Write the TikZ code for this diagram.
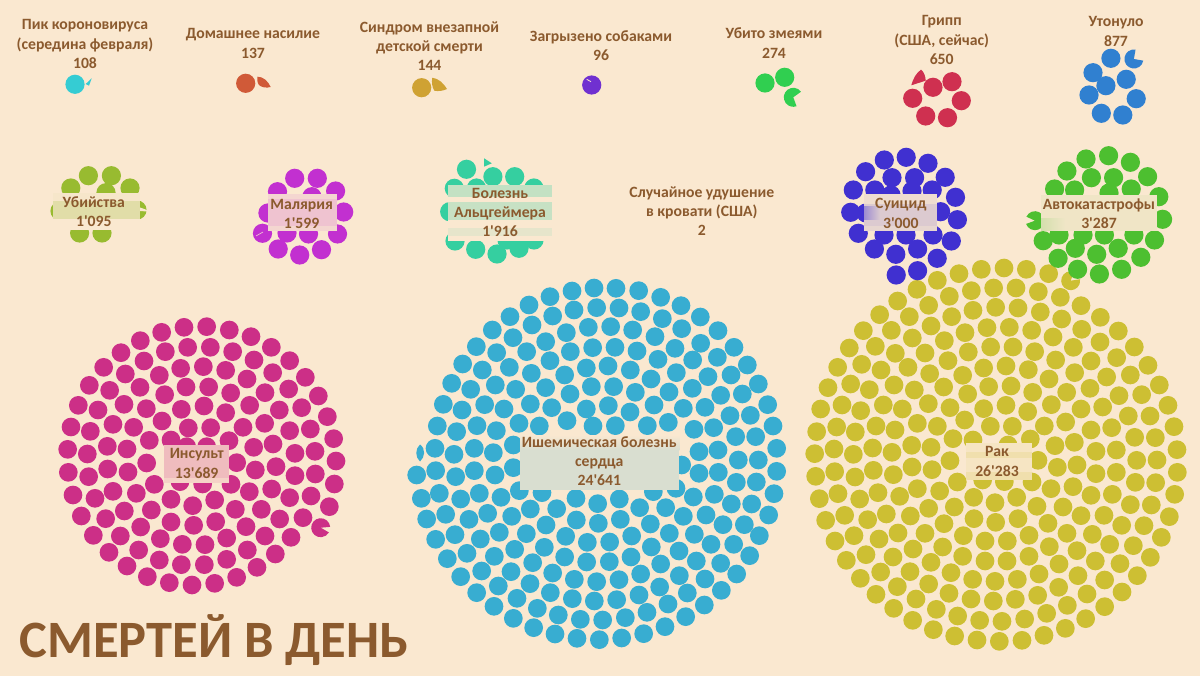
\documentclass[tikz,border=0pt]{standalone}
\usepackage{fontspec}
\newfontfamily\lab{Carlito}
\definecolor{bgc}{HTML}{FAE8D0}
\definecolor{tx}{HTML}{8B5A2E}
\definecolor{cStroke}{HTML}{CC2F87}
\definecolor{cHeart}{HTML}{38ADD1}
\definecolor{cCancer}{HTML}{CDBF33}
\definecolor{cPik}{HTML}{35CCD3}
\definecolor{cDom}{HTML}{D05A38}
\definecolor{cSyn}{HTML}{CFA233}
\definecolor{cDog}{HTML}{7030D0}
\definecolor{cSnake}{HTML}{30CF50}
\definecolor{cFlu}{HTML}{CF3050}
\definecolor{cDrown}{HTML}{3080D0}
\definecolor{cMurder}{HTML}{98BB30}
\definecolor{cMal}{HTML}{C230D0}
\definecolor{cAlz}{HTML}{35CFA0}
\definecolor{cSui}{HTML}{4030D0}
\definecolor{cCar}{HTML}{4DBF30}
\newcommand\zdots[4]{\foreach \a/\b in {#4} \fill[#1] ({#2+\a/3},{#3+\b/3}) circle[radius=9.35pt];}
\newcommand\pxdots[2]{\foreach \a/\b in {#2} \fill[#1] (\a,\b) circle[radius=9.6pt];}
\newcommand\piepart[5]{\fill[#1] (#2,#3) -- ++(#4:9.5pt) arc[start angle=#4,end angle=#5,radius=9.5pt] -- cycle;}
\tikzset{
  lbl/.style={text=tx,align=center,inner sep=0pt,font=\lab\bfseries\fontsize{15.7}{19.2}\selectfont},
  band/.style={draw=none}
}
\newcommand\veil[5]{\fill[#5] (#1,#3) rectangle (#2,#4);}
\begin{document}
\begin{tikzpicture}[x=1pt,y=-1pt]
\useasboundingbox (0,0) rectangle (1200,676);
\fill[bgc] (0,0) rectangle (1200,676);

% stroke
\zdots{cStroke}{40}{310}{432/52,500/50,568/60,633/80,694/112,749/152,796/202,835/258,862/320,881/386,888/453,883/522,868/590,365/67,301/92,243/128,191/172,148/226,115/286,93/351,83/418,85/487,99/555,124/618,160/676,207/727,261/768,322/800,388/818,456/825,524/820,590/802,651/772,706/732,753/682,376/125,443/112,511/112,578/125,642/150,698/188,746/237,785/293,811/357,825/424,826/492,813/558,789/623,719/627,675/678,622/720,560/748,493/764,424/764,358/750,296/720,241/678,197/626,165/565,146/500,142/432,151/364,174/300,209/241,256/192,312/153,358/196,422/175,490/170,557/181,621/207,675/248,718/300,749/362,765/430,765/497,749/563,664/598,618/650,560/684,495/704,427/703,361/686,302/651,253/603,219/544,203/477,202/409,219/343,252/283,300/232,374/254,438/231,506/231,572/249,629/286,674/340,699/402,708/470,695/537,641/412,646/480,628/545,319/296,281/352,261/417,264/486,289/550,334/600,393/636,461/646,527/635,586/598,424/298,492/288,557/308,609/352,366/333,328/391,320/459,343/523,393/568,458/587,524/570,573/523,590/458,567/392,512/353,445/354,393/390,420/515,488/522,440/410,500/410}
\piepart{cStroke}{320.7}{527.7}{5}{330}

% heart
\zdots{cHeart}{400}{270}{582/54,648/55,516/63,716/62,450/80,782/82,387/105,843/107,522/120,590/113,657/114,722/125,330/140,458/138,787/146,901/141,396/165,499/188,565/172,632/170,698/180,845/176,954/182,277/180,339/203,765/200,229/230,290/248,188/282,247/300,328/292,380/245,437/215,511/245,578/233,645/232,711/243,774/268,825/235,902/220,952/262,1002/232,1042/285,155/340,212/358,286/345,347/358,394/310,450/272,494/315,559/294,624/288,691/300,753/327,829/308,878/270,924/320,993/315,1075/342,130/403,186/420,254/404,312/417,391/402,437/353,455/413,510/372,574/350,641/350,706/367,807/366,877/355,962/376,1027/372,762/405,690/426,625/407,559/417,501/452,418/468,357/460,289/482,231/467,170/485,112/468,850/415,915/412,990/437,1051/436,579/468,646/467,742/467,805/457,882/478,941/473,1007/500,1067/500,1103/404,1119/468,1130/535,1130/604,162/553,223/535,280/548,340/525,105/535,897/545,954/540,1015/570,1075/570,167/620,223/602,285/615,340/593,107/602,50/615,897/610,955/607,1009/637,1069/636,845/585,1122/671,1106/735,64/685,118/670,182/687,238/670,303/682,358/662,426/668,528/685,593/701,658/687,719/713,760/665,828/655,880/681,943/673,994/702,1055/702,80/747,137/733,207/748,263/730,335/739,391/717,470/716,529/750,595/760,661/748,797/713,751/762,850/739,918/735,969/764,1033/764,107/808,165/794,241/807,298/787,379/791,438/765,497/799,562/817,629/816,695/798,808/790,883/793,933/823,1001/823,1078/797,142/866,201/850,283/859,344/838,433/832,494/861,560/876,628/875,693/861,754/831,837/843,889/873,962/880,1049/857,182/920,245/903,333/905,398/878,458/909,523/928,590/935,657/929,722/912,782/882,838/917,915/927,1010/912,230/968,295/948,390/941,451/968,517/986,583/993,650/989,717/975,779/951,862/969,964/961,282/1009,351/985,412/1015,475/1035,541/1048,608/1050,676/1043,741/1027,804/1002,913/1005,340/1045,401/1073,465/1092,531/1105,598/1109,665/1104,731/1091,795/1070,857/1040}
\fill[cHeart] (420,444.5) .. controls (415,449) and (415,457) .. (420,461.5) .. controls (425,457) and (426,449) .. cycle;

% cancer
\zdots{cCancer}{800}{250}{612/54,544/58,679/58,477/71,746/71,412/91,351/118,448/139,514/122,581/114,648/114,715/125,781/142,293/153,843/167,386/166,519/181,587/172,654/174,721/186,239/194,328/200,455/200,785/207,901/202,190/242,274/241,393/228,561/233,628/232,695/241,845/238,955/243,337/264,433/272,495/248,759/261,900/276,1003/291,148/294,226/289,286/310,505/306,572/291,639/291,704/305,820/292,950/323,1044/346,375/309,113/352,185/343,444/332,767/330,873/333,243/360,324/352,389/371,551/354,618/348,685/359,824/368,920/381,991/375,84/413,152/402,208/419,282/405,343/420,488/376,431/411,747/387,870/415,1078/405,566/410,633/408,698/427,800/427,957/437,1025/434,62/477,126/465,182/482,250/465,307/477,385/461,503/432,450/473,551/476,618/466,683/485,754/464,843/477,908/471,1104/466,50/545,110/531,166/546,228/528,285/540,352/520,412/529,494/510,571/529,637/529,733/528,797/516,873/540,985/498,1050/498,935/533,1122/530,44/611,102/597,160/613,218/594,276/607,335/586,393/592,459/566,519/570,624/585,691/567,765/587,823/577,888/604,949/600,1004/562,1066/563,1131/599,47/679,104/665,165/681,220/661,280/674,336/651,396/659,450/632,714/631,772/652,831/645,888/671,949/667,1010/631,1071/630,1132/667,58/746,114/731,179/747,234/728,299/739,352/716,419/723,472/696,548/690,613/695,696/696,753/716,819/710,873/736,937/733,1006/697,1067/698,1124/733,77/811,134/796,203/809,259/792,331/798,386/775,463/771,521/742,585/758,650/742,711/769,789/771,843/797,912/796,991/764,1054/765,1108/800,105/873,162/857,237/867,294/849,375/850,432/821,522/806,587/817,654/806,744/820,801/850,877/853,965/826,1032/827,1084/862,139/931,198/914,279/921,339/897,428/891,490/857,555/873,622/873,687/856,748/890,831/902,929/883,1000/887,1051/922,181/985,242/966,330/965,393/937,488/919,555/933,621/933,687/919,777/942,886/933,960/941,1012/977,228/1033,292/1010,386/1002,453/968,518/988,585/994,652/988,717/972,834/977,914/990,966/1026,281/1075,348/1047,447/1030,513/1047,580/1053,646/1048,713/1036,776/1012,861/1032,914/1070,338/1111,409/1078,473/1098,539/1111,606/1114,674/1107,740/1090,802/1066,857/1106,400/1139,464/1158,531/1170,598/1174,666/1171,732/1156,796/1135}
\piepart{cCancer}{1070.7}{280.7}{70}{369}

% top row
\pxdots{cPik}{75/84.3}
\fill[cPik] (91.7,78.3) -- (85.7,84) -- (89,85.7) -- cycle;
\pxdots{cDom}{245.7/83.3}
\fill[cDom] (257.3,76.7) .. controls (263,76.5) and (268,81) .. (270.7,87) .. controls (266,88.5) and (261,87) .. (259,85) .. controls (257,82) and (257,79) .. cycle;
\pxdots{cSyn}{421.7/87.7}
\fill[cSyn] (432.3,77.7) .. controls (439,78.5) and (444,84) .. (447,89) .. controls (443,91) and (438,91.5) .. (434.3,90.7) .. controls (432,87) and (431.5,82) .. cycle;
\pxdots{cDog}{591.7/85}
\draw[bgc,line width=.8pt] (586.7,79.3) -- (591,81.7);
\pxdots{cSnake}{765/83,784.7/77.3}
\piepart{cSnake}{793.3}{97.3}{36}{290}
\pxdots{cFlu}{933/87.3,952/81.7,912.7/98.3,961.3/100.7,925.7/116,947.5/117.7}
\fill[cFlu] (921,69.7) .. controls (916,73) and (913,79) .. (911.3,85.3) -- (925.7,80.7) .. controls (925.5,76) and (924,72) .. cycle;
\pxdots{cDrown}{1110.9/58.3,1093/72.7,1126.2/79.3,1105.9/85.7,1089/95,1136.2/98.7,1101.3/113.3,1122.8/115}
\piepart{cDrown}{1133.9}{59}{80}{350}

% middle row
\pxdots{cMurder}{88.4/175.7,111.4/175.7,70.8/188,130/188,106/192.7,79.6/233,102/233,60/211,137/210}
\fill[bgc] (140,207.5) -- (147,210) -- (147,211.5) -- (140,211) -- cycle;
\pxdots{cMal}{294.7/178.3,317.3/178.3,277.5/191.7,335.6/191,311.9/196.7,343.7/212,267.9/213,262.5/233.3,287/233,308.5/234,337.5/234,278.2/249,321.5/249.7,299.7/255}
\draw[bgc,line width=.5pt] (256,236) -- (263,232);
\pxdots{cAlz}{466.5/169.3,492.9/176.7,514.7/176.7,454.3/188.3,476.5/188,533.9/188,449.7/211.7,455/241,507/240,534/240,475.7/249.3,497/254,519/248.3}
\fill[cAlz] (484.1,158.3) -- (484,166.7) -- (491.8,163.3) -- cycle;
\pxdots{cSui}{884.3/160,906.2/157.3,928/163.3,865.6/171.7,892/177.7,914.6/177.7,945.2/177.3,853.3/190,874.8/190,932.2/190,955.5/197.3,850.7/212.3,957.4/219.7,940.6/211.7,858.3/233.3,951.3/241,874.4/249,895.8/254.3,917.6/249,937.2/258.3,896.2/275,917.6/270.7,884/235,906/235,933/235,912/191,891/195,866/213}
\pxdots{cCar}{1086/159,1108.6/155.7,1130.4/162.3,1066.9/171,1091.4/177.7,1113.6/177.7,1147.6/176.7,1054.6/189,1074.6/190,1109/193,1131.2/189,1158.8/196.7,1162.6/219.3,1043.2/240.7,1059/235,1083/235,1104.4/235,1133.9/235,1154.5/240,1075.3/248.3,1096.7/254.3,1118.2/248.3,1058.1/258.3,1140.8/257.3,1077.6/269.3,1099.4/274,1121.6/269.3}
\piepart{cCar}{1035}{220.7}{200}{515}

% veils behind labels
\veil{53.3}{140}{192.7}{200.7}{bgc!96!cMurder}
\veil{53.3}{140}{200.7}{219.3}{cMurder!25!bgc}
\veil{53.3}{140}{219.3}{230}{bgc}
\veil{268}{337}{194}{199}{bgc!90!cMal}
\veil{268}{337}{199}{226}{cMal!20!bgc}
\veil{268}{337}{226}{231}{bgc!90!cMal}
\veil{448}{552}{185}{196.7}{cAlz!28!bgc}
\veil{448}{552}{196.7}{201.7}{bgc}
\veil{448}{552}{201.7}{220}{cAlz!26!bgc}
\veil{448}{552}{220}{228.5}{bgc}
\veil{448}{552}{228.5}{236.5}{cAlz!10!bgc}
\veil{448}{552}{236.5}{241}{bgc}
\veil{864}{937}{194}{204}{bgc!94!cSui}
\veil{864}{937}{204}{226}{cSui!16!bgc}
\veil{864}{937}{226}{231}{bgc!90!cSui}
\shade[left color=cSui!50!bgc,right color=cSui!16!bgc] (864,207) rectangle (880,220);
\veil{1041}{1157}{195}{231}{bgc!94!cCar}
\shade[left color=cCar!22!bgc,right color=bgc!94!cCar] (1041,219) rectangle (1065,231);
\veil{164.3}{229}{445}{478}{cStroke!24!bgc}
\veil{164.3}{229}{478}{482.7}{cStroke!12!bgc}
\veil{520}{679.3}{435}{490}{cHeart!17!bgc}
\shade[top color=bgc,bottom color=cHeart!17!bgc] (520,435) rectangle (679.3,450);
\fill[cCancer!8!bgc] (965.7,443) rectangle (1032,480);
\fill[cCancer!22!bgc] (965.7,452) rectangle (1032,458);
\fill[cCancer!22!bgc] (965.7,472) rectangle (1032,480);

% labels
\node[lbl] (n1) at (85,44) {Пик короновируса\\(середина февраля)\\108};
\node[lbl] (n2) at (253,43.5) {Домашнее насилие\\137};
\node[lbl] (n3) at (429.5,46) {Синдром внезапной\\детской смерти\\144};
\node[lbl] (n4) at (601,45.5) {Загрызено собаками\\96};
\node[lbl] (n5) at (774,43) {Убито змеями\\274};
\node[lbl] (n6) at (941.7,40) {Грипп\\(США, сейчас)\\650};
\node[lbl] (n7) at (1116,31.5) {Утонуло\\877};
\node[lbl] (n8) at (93.8,212) {Убийства\\1'095};
\node[lbl] (n9) at (301.6,214) {Малярия\\1'599};
\node[lbl] (n10) at (500,212.5) {Болезнь\\Альцгеймера\\1'916};
\node[lbl] (n11) at (701.8,211) {Случайное удушение\\в кровати (США)\\2};
\node[lbl] (n12) at (900.8,213.5) {Суицид\\3'000};
\node[lbl] (n13) at (1099,214) {Автокатастрофы\\3'287};
\node[lbl] (n14) at (196.7,463.5) {Инсульт\\13'689};
\node[lbl] (n15) at (599.3,461) {Ишемическая болезнь\\сердца\\24'641};
\node[lbl] (n16) at (997,461.5) {Рак\\26'283};
\node[text=tx,inner sep=0pt,font=\lab\bfseries\fontsize{52.5}{52.5}\selectfont] (title) at (214,640) {СМЕРТЕЙ В ДЕНЬ};
\end{tikzpicture}
\end{document}
